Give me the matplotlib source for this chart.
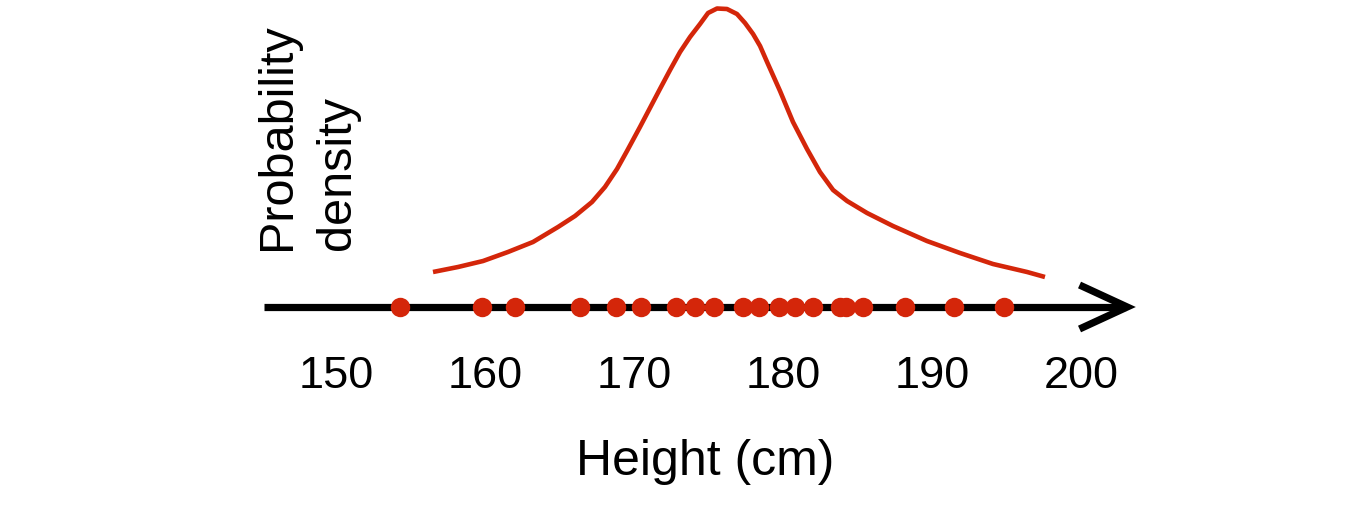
import matplotlib
matplotlib.use("Agg")
import matplotlib.pyplot as plt
import matplotlib.transforms as mtransforms

# heights of the sample (cm)
heights = [154.3, 159.8, 162.0, 166.4, 168.8, 170.5, 172.8, 174.1, 175.4, 177.3,
           178.4, 179.7, 180.8, 182.0, 183.8, 184.2, 185.4, 188.2, 191.5, 194.8]

# density curve
curve_x = [156.51, 158.19, 159.87, 161.54, 163.22, 164.90, 166.04, 167.18, 168.05, 168.86,
           169.53, 170.40, 171.07, 171.74, 172.42, 173.09, 173.76, 174.43, 174.97, 175.57,
           176.24, 176.91, 177.45, 177.99, 178.46, 178.93, 179.80, 180.67, 181.61, 182.48,
           183.36, 184.30, 185.64, 187.38, 189.66, 191.88, 194.09, 196.38, 197.58]
curve_y = [0.0070, 0.0080, 0.0092, 0.0110, 0.0130, 0.0160, 0.0182, 0.0210, 0.0240, 0.0276,
           0.0312, 0.0360, 0.0398, 0.0436, 0.0474, 0.0510, 0.0540, 0.0566, 0.0588, 0.0597,
           0.0596, 0.0586, 0.0568, 0.0546, 0.0522, 0.0490, 0.0432, 0.0370, 0.0316, 0.0270,
           0.0234, 0.0212, 0.0188, 0.0162, 0.0132, 0.0108, 0.0086, 0.0070, 0.0060]

tick_vals = [150, 160, 170, 180, 190, 200]

RED = "#d4260a"
W, H = 1368, 506
FONT = ["Liberation Sans", "DejaVu Sans"]

fig = plt.figure(figsize=(W / 100, H / 100), dpi=100)
ax = fig.add_axes([0, 0, 1, 1])
ax.set_xlim(127.45, 219.26)
ax.set_ylim(-0.0396, 0.0616)
ax.axis("off")

# axis with open arrow head
ax.plot([145.2, 203.0], [0, 0], color="black", lw=5.2, solid_capstyle="butt", zorder=2)
ax.plot([199.9, 203.1, 199.9], [0.0044, 0, -0.0044], color="black", lw=5.2,
        solid_joinstyle="miter", solid_capstyle="butt", zorder=2)

ax.plot(curve_x, curve_y, color=RED, lw=3.3, solid_capstyle="butt",
        solid_joinstyle="round", zorder=3)
ax.plot(heights, [0] * len(heights), "o", color=RED, ms=14, mec="none", zorder=4)

trans = mtransforms.blended_transform_factory(ax.transData, fig.transFigure)
for v in tick_vals:
    ax.text(v, 1 - 388 / H, str(v), transform=trans, ha="center", va="baseline",
            fontsize=32.5, family=FONT)

fig.text(705 / W, 1 - 475 / H, "Height (cm)", ha="center", va="baseline",
         fontsize=36, family=FONT)

fig.text(290 / W, 1 - 250 / H, "Probability", rotation=90, rotation_mode="anchor",
         ha="left", va="baseline", fontsize=35, family=FONT)
fig.text(350 / W, 1 - 250 / H, "density", rotation=90, rotation_mode="anchor",
         ha="left", va="baseline", fontsize=35, family=FONT)

fig.savefig("out.png", dpi=100)
